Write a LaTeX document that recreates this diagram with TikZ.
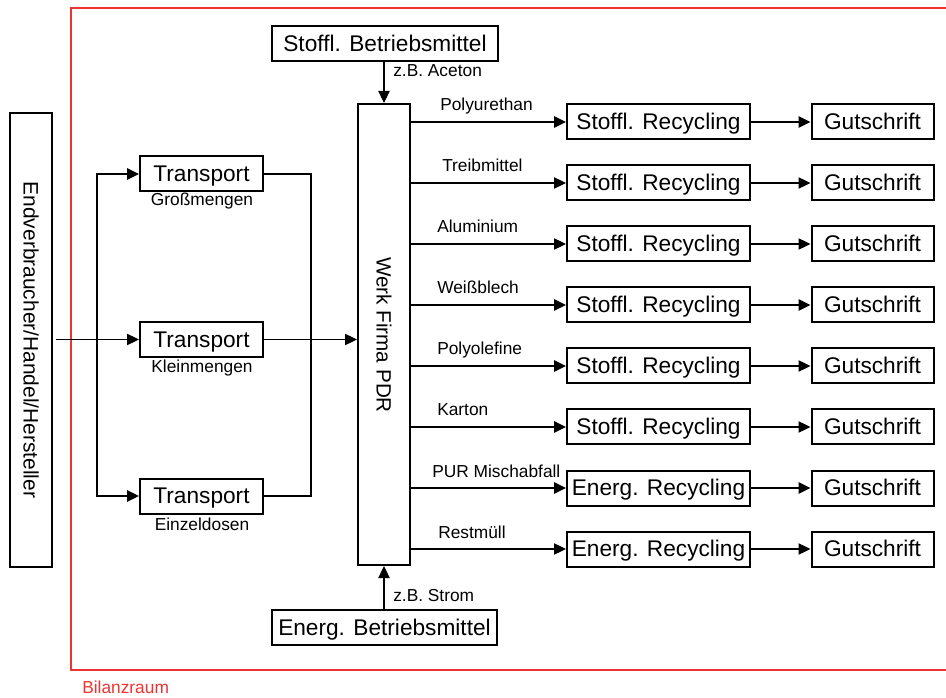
\documentclass[tikz,border=0pt]{standalone}
\usepackage{fontspec}
\setmainfont{Liberation Sans}
\usetikzlibrary{arrows.meta,calc}
\definecolor{frame}{HTML}{EE3333}
\begin{document}
\begin{tikzpicture}[x=0.75pt,y=-0.75pt,
  box/.style={draw,line width=1.5pt,inner sep=0pt,text height=12.2pt,text depth=0.6pt,font=\fontsize{17}{20}\selectfont},
  lab/.style={inner sep=0pt,font=\fontsize{13}{15}\selectfont},
  arr/.style={-{Triangle[length=9pt,width=8.5pt]}},
  thk/.style={line width=1.5pt},
  thn/.style={line width=0.8pt},
  tbox/.style={box,minimum width=92.25pt,minimum height=26.25pt},
  rbox/.style={box,minimum width=137.25pt,minimum height=26.25pt},
  gbox/.style={box,minimum width=91.5pt,minimum height=26.25pt},
]
\useasboundingbox (0,0) rectangle (946,698);

% Bilanzraum frame
\draw[frame,line width=1.5pt] (950,8.5) -- (71,8.5) -- (71,669.5) -- (950,669.5);
\node[lab,anchor=base west,text=frame] (bil) at (82,693) {Bilanzraum};

% left box
\node[draw,line width=1.5pt,minimum width=31.5pt,minimum height=340.5pt] (end) at (31,340) {};
\node[rotate=-90,inner sep=0pt,font=\fontsize{15.7}{18}\selectfont] (endtxt) at (end.center) {Endverbraucher/Handel/Hersteller};

% transport
\node[tbox] (t1) at (201.5,174) {Transport};
\node[tbox] (t2) at (201.5,339.5) {Transport};
\node[tbox] (t3) at (201.5,496) {Transport};
\node[lab,anchor=base] (l1) at (202,206) {Großmengen};
\node[lab,anchor=base] (l2) at (202,373) {Kleinmengen};
\node[lab,anchor=base] (l3) at (202,530) {Einzeldosen};

% plant
\node[draw,line width=1.5pt,minimum width=39pt,minimum height=345.75pt] (werk) at (384,334.5) {};
\node[rotate=-90,inner sep=0pt,font=\fontsize{15.5}{18}\selectfont] (werktxt) at (384,335) {Werk Firma PDR};

\node[box,minimum width=169.5pt,minimum height=26.25pt] (sb) at (385,43.5) {Stoffl. Betriebsmittel};
\node[box,minimum width=168.75pt,minimum height=26.25pt] (eb) at (384.5,627.5) {Energ. Betriebsmittel};
\draw[thn,arr] (werk.north |- sb.south) -- (werk.north);
\draw[thn,arr] (werk.south |- eb.north) -- (werk.south);
\node[lab,anchor=base west] (ac) at (393,77) {z.B. Aceton};
\node[lab,anchor=base west] (st) at (393,601) {z.B. Strom};

% left distribution
\coordinate (spl) at (97,339.5);
\draw[thk,arr] (spl) |- (t1.west);
\draw[thk,arr] (spl) |- (t3.west);
\draw[thn,arr] ($(end.east |- t2.west)+(3,0)$) -- (t2.west);

% right collector
\coordinate (col) at (311,339.5);
\draw[thk] (t1.east) -| (col);
\draw[thn] (t3.east) -| (col);
\draw[thn] (t2.east) -- (col);
\draw[thn,arr] (col) -- (col -| werk.west);

% output rows
\foreach \i/\y/\lx/\lab/\rec/\wa/\wb in {
  1/122/440/Polyurethan/Stoffl. Recycling/thk/thk,
  2/183/442/Treibmittel/Stoffl. Recycling/thn/thn,
  3/244/437/Aluminium/Stoffl. Recycling/thn/thn,
  4/305/437/Weißblech/Stoffl. Recycling/thk/thk,
  5/366/437/Polyolefine/Stoffl. Recycling/thk/thn,
  6/427/437/Karton/Stoffl. Recycling/thk/thn,
  7/488/432/PUR Mischabfall/Energ. Recycling/thk/thk,
  8/549/438/Restmüll/Energ. Recycling/thn/thn}{
  \node[rbox] (r\i) at (658.5,\y) {\rec};
  \node[gbox] (g\i) at (872.5,\y) {Gutschrift};
  \node[lab,anchor=base west] (o\i) at (\lx,\y-11) {\lab};
  \draw[arr,\wa] (werk.east |- r\i.west) -- (r\i.west);
  \draw[arr,\wb] (r\i.east) -- (g\i.west);
}
\end{tikzpicture}
\end{document}
